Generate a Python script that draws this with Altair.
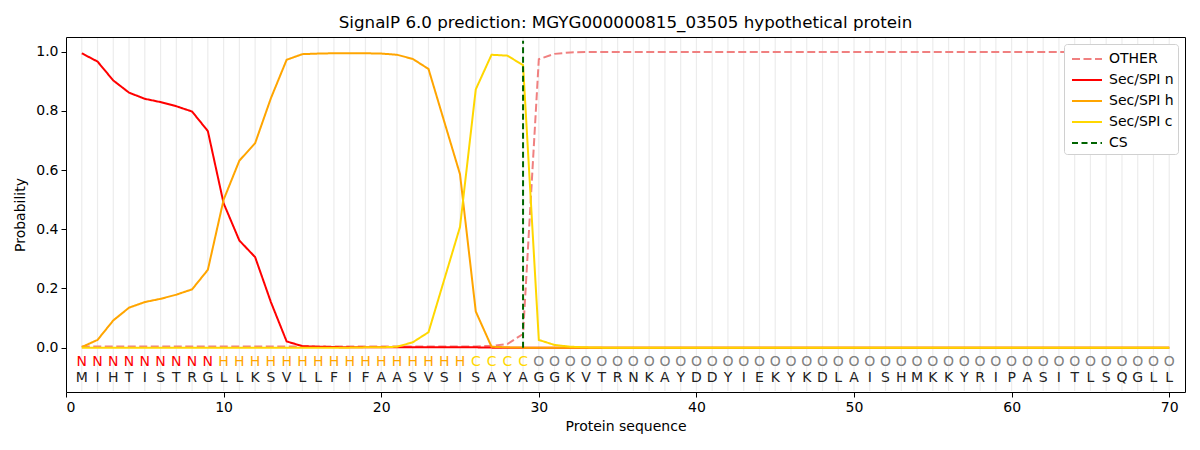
import altair as alt
import pandas as pd

positions = list(range(1, 71))
sequence = list("MIHTISTRGLLKSVLLFIFAASVSISAYAGGKVTRNKAYDDYIEKYKDLAISHMKKYRIPASITLSQGLL")
region_labels = list("NNNNNNNNNHHHHHHHHHHHHHHHHCCCCOOOOOOOOOOOOOOOOOOOOOOOOOOOOOOOOOOOOOOOOO")
label_colors = {"N": "#ff0000", "H": "#ffa500", "C": "#ffd700", "O": "#808080"}

other = [0.004, 0.004, 0.004, 0.004, 0.004, 0.004, 0.004, 0.004, 0.004, 0.004,
         0.004, 0.004, 0.004, 0.004, 0.004, 0.004, 0.004, 0.004, 0.004, 0.004,
         0.004, 0.004, 0.004, 0.004, 0.004, 0.004, 0.006, 0.012, 0.046, 0.975,
         0.993, 0.998, 0.999, 0.999, 0.999, 0.999, 0.999, 0.999, 0.999, 0.999,
         0.999, 0.999, 0.999, 0.999, 0.999, 0.999, 0.999, 0.999, 0.999, 0.999,
         0.999, 0.999, 0.999, 0.999, 0.999, 0.999, 0.999, 0.999, 0.999, 0.999,
         0.999, 0.999, 0.999, 0.999, 0.999, 0.999, 0.999, 0.999, 0.999, 0.999]
sec_n = [0.995, 0.967, 0.903, 0.862, 0.841, 0.830, 0.816, 0.798, 0.732, 0.488,
         0.362, 0.306, 0.154, 0.021, 0.005, 0.003, 0.002, 0.001, 0.001, 0.001,
         0.001, 0.001, 0.001, 0.001, 0.001, 0.001, 0.0, 0.0, 0.0, 0.0,
         0.0, 0.0, 0.0, 0.0, 0.0, 0.0, 0.0, 0.0, 0.0, 0.0,
         0.0, 0.0, 0.0, 0.0, 0.0, 0.0, 0.0, 0.0, 0.0, 0.0,
         0.0, 0.0, 0.0, 0.0, 0.0, 0.0, 0.0, 0.0, 0.0, 0.0,
         0.0, 0.0, 0.0, 0.0, 0.0, 0.0, 0.0, 0.0, 0.0, 0.0]
sec_h = [0.002, 0.026, 0.092, 0.135, 0.154, 0.165, 0.179, 0.197, 0.263, 0.500,
         0.632, 0.691, 0.843, 0.973, 0.992, 0.994, 0.995, 0.995, 0.995, 0.994,
         0.990, 0.976, 0.942, 0.764, 0.586, 0.122, 0.003, 0.001, 0.0, 0.0,
         0.0, 0.0, 0.0, 0.0, 0.0, 0.0, 0.0, 0.0, 0.0, 0.0,
         0.0, 0.0, 0.0, 0.0, 0.0, 0.0, 0.0, 0.0, 0.0, 0.0,
         0.0, 0.0, 0.0, 0.0, 0.0, 0.0, 0.0, 0.0, 0.0, 0.0,
         0.0, 0.0, 0.0, 0.0, 0.0, 0.0, 0.0, 0.0, 0.0, 0.0]
sec_c = [0.0, 0.0, 0.0, 0.0, 0.0, 0.0, 0.0, 0.0, 0.0, 0.0,
         0.0, 0.0, 0.0, 0.0, 0.0, 0.0, 0.0, 0.0, 0.001, 0.001,
         0.003, 0.018, 0.052, 0.230, 0.408, 0.873, 0.990, 0.987, 0.955, 0.026,
         0.009, 0.003, 0.001, 0.0, 0.0, 0.0, 0.0, 0.0, 0.0, 0.0,
         0.0, 0.0, 0.0, 0.0, 0.0, 0.0, 0.0, 0.0, 0.0, 0.0,
         0.0, 0.0, 0.0, 0.0, 0.0, 0.0, 0.0, 0.0, 0.0, 0.0,
         0.0, 0.0, 0.0, 0.0, 0.0, 0.0, 0.0, 0.0, 0.0, 0.0]
cs_position = 29

series_names = ["OTHER", "Sec/SPI n", "Sec/SPI h", "Sec/SPI c", "CS"]
series_colors = ["#f08080", "#ff0000", "#ffa500", "#ffd700", "#006400"]
series_dash = [[8, 3.5], [1, 0], [1, 0], [1, 0], [6, 3.5]]

rows = []
for name, vals in zip(series_names[:4], [other, sec_n, sec_h, sec_c]):
    for p, v in zip(positions, vals):
        rows.append({"pos": p, "prob": v, "series": name})
lines_df = pd.DataFrame(rows)

letters_df = pd.DataFrame({
    "pos": positions,
    "aa": sequence,
    "lab": region_labels,
    "labcolor": [label_colors[l] for l in region_labels],
})
grid_df = pd.DataFrame({"pos": positions})
cs_df = pd.DataFrame({"pos": [cs_position], "y0": [0.0], "y1": [1.037], "series": ["CS"]})

xscale = alt.Scale(domain=[0, 71], nice=False, zero=False)
yscale = alt.Scale(domain=[-0.15, 1.05], nice=False, zero=False)

xaxis = alt.Axis(values=[0, 10, 20, 30, 40, 50, 60, 70], format="d", title="Protein sequence")
yaxis = alt.Axis(values=[0.0, 0.2, 0.4, 0.6, 0.8, 1.0], format=".1f", title="Probability")

color_enc = alt.Color("series:N", scale=alt.Scale(domain=series_names, range=series_colors),
                      title=None,
                      legend=alt.Legend(orient="top-right", offset=7,
                                        symbolType="M-1.5,0H1.5",
                                        symbolSize=400, symbolStrokeWidth=2,
                                        symbolOffset=8,
                                        labelFontSize=14, fillColor="white",
                                        strokeColor="#d0d0d0", cornerRadius=3,
                                        padding=4, rowPadding=3, labelOffset=11))
dash_enc = alt.StrokeDash("series:N", scale=alt.Scale(domain=series_names, range=series_dash),
                          title=None)

grid = alt.Chart(grid_df).mark_rule(color="#ececec", strokeWidth=1.2).encode(
    x=alt.X("pos:Q", scale=xscale, axis=xaxis),
    y=alt.datum(-0.147, scale=yscale),
    y2=alt.datum(1.047),
)

layers = [grid]
for name in series_names[:4]:
    layers.append(
        alt.Chart(lines_df).transform_filter(alt.datum.series == name)
        .mark_line(strokeWidth=2)
        .encode(
            x=alt.X("pos:Q", scale=xscale, axis=xaxis),
            y=alt.Y("prob:Q", scale=yscale, axis=yaxis),
            color=color_enc,
            strokeDash=dash_enc,
        )
    )

cs_rule = alt.Chart(cs_df).mark_rule(strokeWidth=2).encode(
    x=alt.X("pos:Q", scale=xscale, axis=xaxis),
    y=alt.Y("y0:Q", scale=yscale, axis=yaxis),
    y2="y1:Q",
    color=color_enc,
    strokeDash=dash_enc,
)
layers.append(cs_rule)

lab_text = alt.Chart(letters_df).mark_text(fontSize=14, baseline="middle").encode(
    x=alt.X("pos:Q", scale=xscale),
    y=alt.datum(-0.047),
    text="lab:N",
    color=alt.Color("labcolor:N", scale=None, legend=None),
)
aa_text = alt.Chart(letters_df).mark_text(fontSize=14, baseline="middle", color="#222222").encode(
    x=alt.X("pos:Q", scale=xscale),
    y=alt.datum(-0.102),
    text="aa:N",
)
layers += [lab_text, aa_text]

chart = alt.layer(*layers).properties(
    width=1119,
    height=355,
    title=alt.TitleParams("SignalP 6.0 prediction: MGYG000000815_03505 hypothetical protein",
                          fontSize=16.7, fontWeight="normal", anchor="middle", frame="group",
                          offset=5, color="black"),
    autosize=alt.AutoSizeParams(type="none"),
    padding={"left": 58, "top": 29, "right": 7, "bottom": 50},
).configure(
    font="DejaVu Sans",
).configure_view(
    stroke="black", strokeWidth=1
).configure_axis(
    domain=False, grid=False, ticks=True, tickColor="black", tickSize=5,
    labelFontSize=14, labelColor="black", titleFontSize=14, titleFontWeight="normal",
    titleColor="black", labelPadding=3, tickWidth=1
).configure_axisY(
    titlePadding=8
).configure_axisX(
    titlePadding=5
)

chart.save("out.html", embed_options={"renderer": "svg", "actions": False})
